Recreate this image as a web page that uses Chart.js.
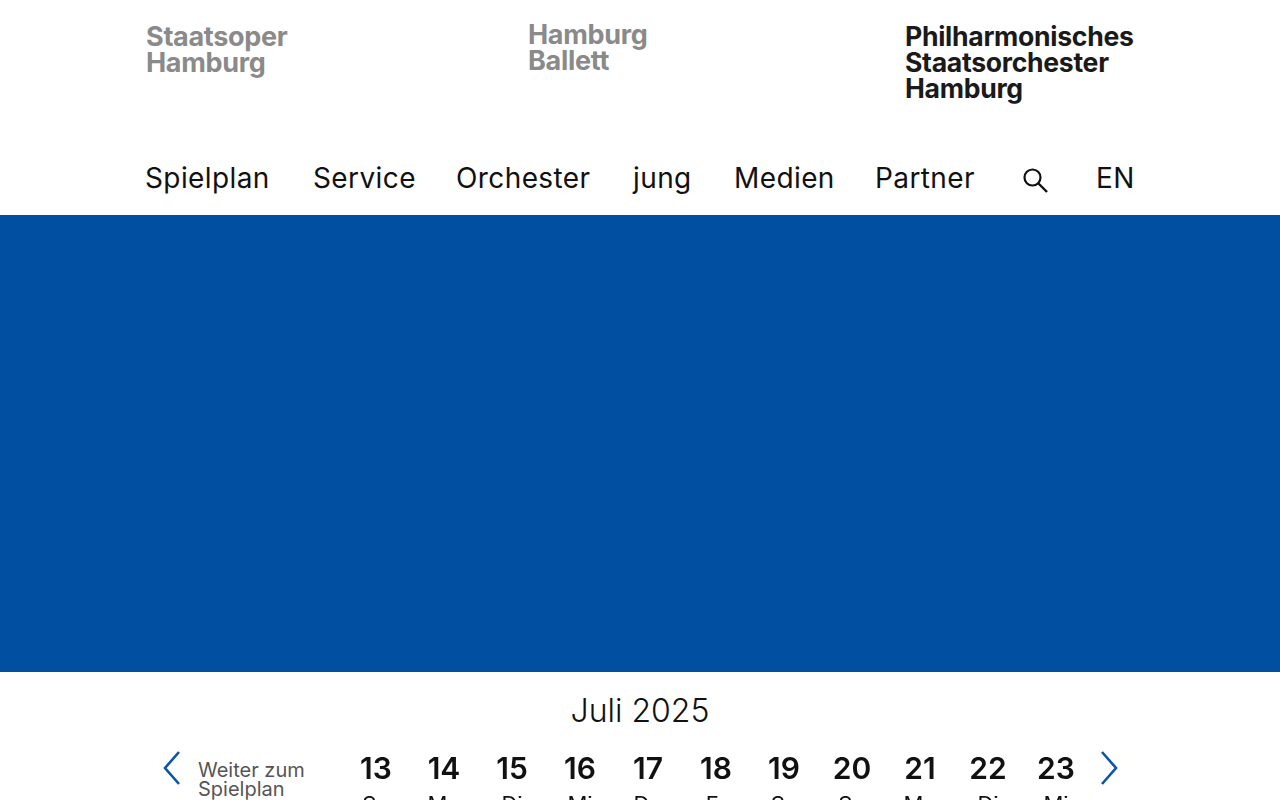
<!DOCTYPE html>
<html lang="de">
<head>
<meta charset="utf-8">
<title>Philharmonisches Staatsorchester Hamburg</title>
<script src="https://cdn.jsdelivr.net/npm/chart.js@4/dist/chart.umd.min.js"></script>
<style>
  html, body { margin: 0; padding: 0; width: 1280px; height: 800px; overflow: hidden; background: #fff; font-family: "Inter", "Noto Sans", sans-serif; }
  .logo { position: absolute; font-weight: 700; font-size: 27px; line-height: 25px; height: 25px; letter-spacing: -0.3px; white-space: nowrap; }
  .logo.grey { color: #8a8a8a; }
  .logo.dark { color: #1a1a1a; font-size: 26.6px; }
  .nav { position: absolute; top: 161px; font-size: 28px; color: #111; font-weight: 400; letter-spacing: 0.4px; }
  .hero { position: absolute; left: 0; top: 215px; width: 1280px; height: 457px; background: #004fa1; }
  .month { position: absolute; top: 691px; left: 0; width: 1280px; text-align: center; font-size: 32px; font-weight: 300; color: #111; }
  .weiter { position: absolute; left: 198px; font-size: 20px; line-height: 19px; height: 19px; color: #555; font-weight: 400; }
  .chev { position: absolute; top: 750px; }
  #strip { position: absolute; left: 342px; top: 752px; }
</style>
</head>
<body>
<div class="logo grey" style="left:146px; top:24px;">Staatsoper</div>
<div class="logo grey" style="left:146px; top:50px;">Hamburg</div>
<div class="logo grey" style="left:528px; top:22px;">Hamburg</div>
<div class="logo grey" style="left:528px; top:48px;">Ballett</div>
<div class="logo dark" style="left:905px; top:24px;">Philharmonisches</div>
<div class="logo dark" style="left:905px; top:50px;">Staatsorchester</div>
<div class="logo dark" style="left:905px; top:76px;">Hamburg</div>

<div class="nav" style="left:145px;">Spielplan</div>
<div class="nav" style="left:313px;">Service</div>
<div class="nav" style="left:456px;">Orchester</div>
<div class="nav" style="left:633px;">jung</div>
<div class="nav" style="left:734px;">Medien</div>
<div class="nav" style="left:875px;">Partner</div>
<svg style="position:absolute; left:1022px; top:167px;" width="28" height="28" viewBox="0 0 28 28">
  <circle cx="10.5" cy="10.5" r="8" fill="none" stroke="#111" stroke-width="2.2"/>
  <line x1="16.5" y1="16.5" x2="25" y2="25" stroke="#111" stroke-width="2.4"/>
</svg>
<div class="nav" style="left:1096px;">EN</div>

<div class="hero"></div>

<div class="month">Juli 2025</div>

<svg class="chev" style="left:160px;" width="24" height="36" viewBox="0 0 24 36">
  <polyline points="19,2 5,18 19,34" fill="none" stroke="#0a55a8" stroke-width="2.6"/>
</svg>
<div class="weiter" style="top:761px;">Weiter zum</div>
<div class="weiter" style="top:780px;">Spielplan</div>
<svg class="chev" style="left:1098px;" width="24" height="36" viewBox="0 0 24 36">
  <polyline points="4,2 18,18 4,34" fill="none" stroke="#0a55a8" stroke-width="2.6"/>
</svg>

<canvas id="strip" width="748" height="110"></canvas>

<script>
// days shown in the date strip, July 2025
const days = ['13', '14', '15', '16', '17', '18', '19', '20', '21', '22', '23'];
const weekdays = ['So', 'Mo', 'Di', 'Mi', 'Do', 'Fr', 'Sa', 'So', 'Mo', 'Di', 'Mi'];

const ctx = document.getElementById('strip').getContext('2d');
new Chart(ctx, {
  type: 'bar',
  data: {
    labels: days,
    datasets: [],
  },
  options: {
    responsive: false,
    animation: false,
    layout: { padding: 0 },
    plugins: { legend: { display: false }, tooltip: { enabled: false } },
    scales: {
      x: {
        position: 'top',
        weight: 1,
        grid: { display: false },
        border: { display: false },
        ticks: {
          color: '#111',
          padding: 0,
          maxRotation: 0,
          autoSkip: false,
          font: { family: 'Inter', size: 30, weight: '600' },
        },
      },
      x2: {
        position: 'top',
        weight: 0,
        type: 'category',
        labels: weekdays,
        grid: { display: false },
        border: { display: false },
        ticks: {
          color: '#111',
          padding: -4,
          maxRotation: 0,
          autoSkip: false,
          font: { family: 'Inter', size: 22, weight: '400' },
        },
      },
      y: { display: false },
    },
  },
});
</script>
</body>
</html>
